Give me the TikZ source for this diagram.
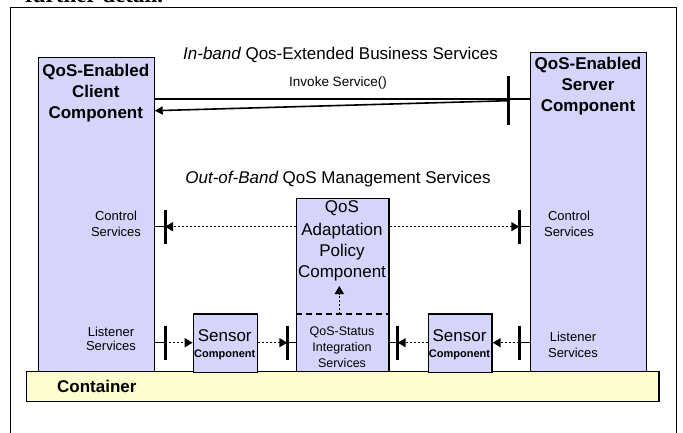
\documentclass[tikz,border=0pt]{standalone}
\usepackage{fontspec}
\setmainfont{Liberation Sans}
\newfontfamily\seriffont{Liberation Serif}
\usetikzlibrary{arrows.meta}

\definecolor{compfill}{RGB}{213,213,252}
\definecolor{contfill}{RGB}{253,253,206}

\begin{document}
\begin{tikzpicture}[x=1pt,y=-1pt,
  comp/.style={draw=black, line width=1.4pt, fill=compfill, inner sep=0pt, anchor=north west},
  cont/.style={draw=black, line width=1.4pt, fill=contfill, inner sep=0pt, anchor=north west},
  big/.style={inner sep=0pt, anchor=base, font=\fontsize{17}{17}\selectfont},
  bigb/.style={inner sep=0pt, anchor=base, font=\bfseries\fontsize{17}{17}\selectfont},
  small/.style={inner sep=0pt, anchor=base, font=\fontsize{13}{13}\selectfont},
  tiny/.style={inner sep=0pt, anchor=base, font=\fontsize{12.5}{12.5}\selectfont},
  tinyb/.style={inner sep=0pt, anchor=base, font=\bfseries\fontsize{11}{11}\selectfont},
  barline/.style={line width=3pt},
  link/.style={line width=1.5pt},
  dotlink/.style={line width=1.5pt, dash pattern=on 2pt off 2pt, -{Triangle[length=8pt,width=9pt]}},
  tip/.style={-{Triangle[length=8pt,width=8pt]}}
]
\useasboundingbox (0,0) rectangle (683,433);
\clip (0,0) rectangle (683,433);

% heading line of the surrounding page, cut by the frame
\node[inner sep=0pt, anchor=base west, font=\seriffont\bfseries\fontsize{23}{23}\selectfont] (pagetext) at (25,2.7) {further detail.};

% outer frame
\draw[line width=1pt] (10.7,440) -- (10.7,7.3) -- (676.5,7.3) -- (676.5,440);

% container
\node[cont, minimum width=632.6pt, minimum height=29.7pt] (container) at (25.7,371) {};
\node[bigb, anchor=base west] (contlabel) at (57,392) {Container};

% components
\node[comp, minimum width=116.3pt, minimum height=314pt] (client) at (37.7,57) {};
\node[comp, minimum width=116pt, minimum height=319pt] (server) at (530,52) {};
\node[comp, minimum width=92.6pt, minimum height=173pt] (adapt) at (295.7,198) {};
\node[comp, minimum width=64pt, minimum height=58.4pt] (sensA) at (192.7,313.3) {};
\node[comp, minimum width=63.6pt, minimum height=58.4pt] (sensB) at (427.7,313.3) {};

% client labels
\node[bigb] (cl1) at (95.8,77) {QoS-Enabled};
\node[bigb] (cl2) at (95.8,97.5) {Client};
\node[bigb] (cl3) at (95.8,118.5) {Component};
\node[small] (cc1) at (116,220.4) {Control};
\node[small] (cc2) at (116,236.4) {Services};
\node[small] (clis1) at (111,336.4) {Listener};
\node[small] (clis2) at (111,350.7) {Services};

% server labels
\node[bigb] (sv1) at (588,70) {QoS-Enabled};
\node[bigb] (sv2) at (588,91) {Server};
\node[bigb] (sv3) at (588,112) {Component};
\node[small] (sc1) at (569,220.4) {Control};
\node[small] (sc2) at (569,236.4) {Services};
\node[small] (slis1) at (573,341.7) {Listener};
\node[small] (slis2) at (573,357.2) {Services};

% adaptation policy and status integration
\node[big] (ad1) at (342,212) {QoS};
\node[big] (ad2) at (342,235.5) {Adaptation};
\node[big] (ad3) at (342,256.5) {Policy};
\node[big] (ad4) at (342,277) {Component};
\node[tiny] (st1) at (342,335.5) {QoS-Status};
\node[tiny] (st2) at (342,351.5) {Integration};
\node[tiny] (st3) at (342,367.5) {Services};

% sensors
\node[big] (sa1) at (224.7,341.8) {Sensor};
\node[tinyb] (sa2) at (224.7,357) {Component};
\node[big] (sb1) at (459.5,341.8) {Sensor};
\node[tinyb] (sb2) at (459.5,357) {Component};

% headings
\node[big] (inband) at (340.5,60) {\itshape In-band\upshape\ Qos-Extended Business Services};
\node[inner sep=0pt, anchor=base, font=\fontsize{13.5}{13.5}\selectfont] (invoke) at (338,87) {Invoke Service()};
\node[big] (outband) at (338,183.4) {\itshape Out-of-Band\upshape\ QoS Management Services};

% in-band invocation
\coordinate (ibar) at (508,99.5);
\coordinate (itip) at (154.7,110.7);
\draw[line width=2pt] (client.east |- ibar) -- (server.west |- ibar);
\draw[line width=1.6pt, tip] (ibar) ++(0,1.2) -- (itip);
\draw[barline] (ibar) ++(0,-23) -- ++(0,49);

% control services
\coordinate (cbarL) at (165,226.7);
\coordinate (cbarR) at (519.3,226.7);
\draw[link] (client.east |- cbarL) -- (cbarL);
\draw[link] (server.west |- cbarR) -- (cbarR);
\draw[dotlink] (adapt.west |- cbarL) -- (cbarL);
\draw[dotlink] (adapt.east |- cbarR) -- (cbarR);
\draw[barline] (cbarL) ++(0,-17) -- ++(0,34);
\draw[barline] (cbarR) ++(0,-17) -- ++(0,34);

% listener services
\coordinate (lbarA) at (165,342.7);
\coordinate (lbarB) at (287.3,342.7);
\coordinate (lbarC) at (397.7,342.7);
\coordinate (lbarD) at (519.3,342.7);
\draw[link] (client.east |- lbarA) -- (lbarA);
\draw[link] (adapt.west |- lbarB) -- (lbarB);
\draw[link] (adapt.east |- lbarC) -- (lbarC);
\draw[link] (server.west |- lbarD) -- (lbarD);
\draw[dotlink] (lbarA) -- (sensA.west |- lbarA);
\draw[dotlink] (sensA.east |- lbarB) -- (lbarB);
\draw[dotlink] (sensB.west |- lbarC) -- (lbarC);
\draw[dotlink] (lbarD) -- (sensB.east |- lbarD);
\foreach \b in {lbarA,lbarB,lbarC,lbarD}
  \draw[barline] (\b) ++(0,-17) -- ++(0,34);

% status / policy separation and feedback
\coordinate (upfrom) at (339.3,314);
\coordinate (upto) at (339.3,286);
\draw[line width=1.5pt, dash pattern=on 6pt off 4pt] (adapt.west |- upfrom) -- (adapt.east |- upfrom);
\draw[dotlink] (upfrom) -- (upto);
\end{tikzpicture}
\end{document}
